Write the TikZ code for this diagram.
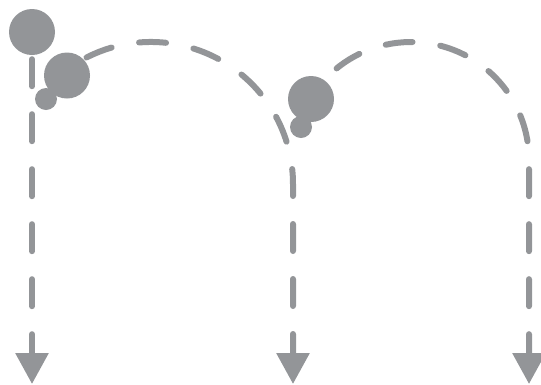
\documentclass[tikz,border=0pt]{standalone}
\usetikzlibrary{arrows.meta,backgrounds}
\definecolor{bouncegray}{RGB}{147,149,152}
\begin{document}
\begin{tikzpicture}[x=1pt,y=-1pt,
  track/.style={bouncegray,line width=6pt,line cap=round,dash pattern=on 27pt off 28pt,-{Triangle[width=32pt,length=31pt]}},
  ball/.style={circle,fill=bouncegray,inner sep=0pt,minimum size=46pt},
  pebble/.style={circle,fill=bouncegray,inner sep=0pt,minimum size=22pt}]
\useasboundingbox (0,0) rectangle (541,384);
% balls along the bounce
\node[ball] (ball1) at (32,32) {};
\node[ball] (ball2) at (67,75.5) {};
\node[pebble] (pebble2) at (46,99) {};
\node[ball] (ball3) at (311,99) {};
\node[pebble] (pebble3) at (301,127) {};
% arc centres and arrow tips
\coordinate (hub1) at (151,184);
\coordinate (hub2) at (411,160);
\coordinate (tip1) at (32,384);
\coordinate (tip2) at (293,384);
\coordinate (tip3) at (529,384);
% dashed paths behind the balls
\begin{scope}[on background layer]
\draw[track] (ball1.south) ++(0,4) -- (tip1);
\draw[track] (hub1) ++(-117:142) arc[start angle=-117,end angle=0,radius=142] -- (tip2);
\draw[track,dash phase=29pt] (hub2) ++(-141.7:118) arc[start angle=-141.7,end angle=0,radius=118] -- (tip3);
\end{scope}
\end{tikzpicture}
\end{document}
